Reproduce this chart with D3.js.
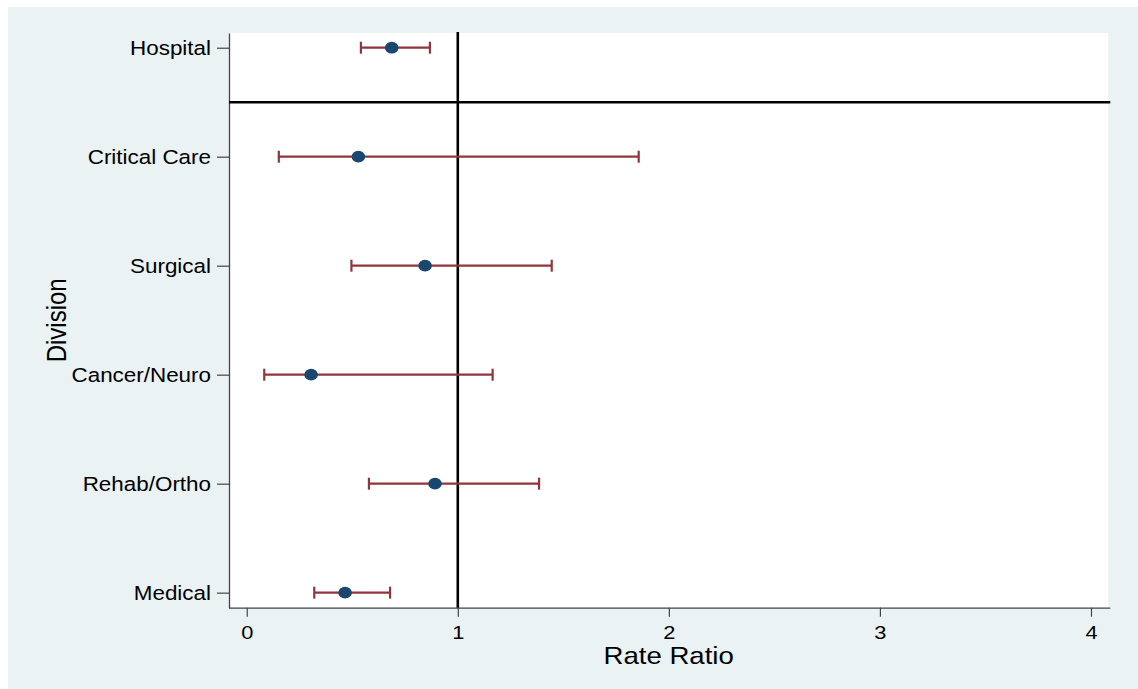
<!DOCTYPE html>
<html>
<head>
<meta charset="utf-8">
<script src="https://cdn.jsdelivr.net/npm/d3@7"></script>
<style>
  body { margin: 0; background: #fff; }
  svg text { font-family: "Liberation Sans", Arial, sans-serif; fill: #000; }
</style>
</head>
<body>
<div id="chart"></div>
<script>
// divisions from top to bottom, with rate ratio and 95% CI
const divisions = ["Hospital", "Critical Care", "Surgical", "Cancer/Neuro", "Rehab/Ortho", "Medical"];
const rateRatio = [0.687, 0.529, 0.845, 0.305, 0.892, 0.466];
const lowerCI   = [0.541, 0.152, 0.496, 0.083, 0.579, 0.320];
const upperCI   = [0.868, 1.857, 1.445, 1.165, 1.385, 0.679];
const xTicks = [0, 1, 2, 3, 4];
const refValue = 1;

const width = 1138, height = 689;
const plot = {left: 229, right: 1108.3, top: 33, bottom: 607.7};
const stretch = 1.15; // text in the picture is a bit wider than tall

const rows = divisions.map((d, i) => ({
  name: d,
  pos: divisions.length - i,
  rr: rateRatio[i],
  lo: lowerCI[i],
  hi: upperCI[i]
}));

const svg = d3.select('#chart')
  .append('svg')
  .attr('width', width)
  .attr('height', height);

// outer graph region
svg.append('rect')
  .attr('x', 8).attr('y', 7)
  .attr('width', width - 8).attr('height', height - 7)
  .attr('fill', '#eaf2f3');

svg.append('rect')
  .attr('x', plot.left).attr('y', plot.top)
  .attr('width', plot.right - plot.left).attr('height', plot.bottom - plot.top)
  .attr('fill', '#fff');

const x = d3.scaleLinear().domain([-0.084, 4.082]).range([plot.left, plot.right]);
const y = d3.scaleLinear().domain([0.862, 6.135]).range([plot.bottom, plot.top]);

// x axis
const gx = svg.append('g')
  .attr('transform', `translate(0,${plot.bottom})`)
  .call(d3.axisBottom(x).tickValues(xTicks).tickFormat(d3.format('d')).tickSize(9).tickSizeOuter(0));
gx.select('.domain').attr('stroke', '#444').attr('stroke-width', 1.3)
  .attr('d', `M${plot.left},0.5H${plot.right + 2}`);
gx.selectAll('.tick line').attr('stroke', '#444').attr('stroke-width', 1.2);
gx.selectAll('.tick text')
  .attr('y', 18).attr('dy', '0.71em')
  .attr('font-size', 19)
  .attr('transform', `scale(${stretch},1)`);

// y axis
const gy = svg.append('g')
  .attr('transform', `translate(${plot.left},0)`)
  .call(d3.axisLeft(y).tickValues(rows.map(d => d.pos))
    .tickFormat(p => rows.find(r => r.pos === p).name).tickSize(12).tickSizeOuter(0));
gy.select('.domain').attr('stroke', '#444').attr('stroke-width', 1.3);
gy.selectAll('.tick line').attr('stroke', '#444').attr('stroke-width', 1.2);
gy.selectAll('.tick text')
  .attr('x', -18 / stretch).attr('dy', '0.35em')
  .attr('font-size', 19.5)
  .attr('transform', `scale(${stretch},1)`);

// reference line at rate ratio 1
svg.append('line')
  .attr('x1', x(refValue)).attr('x2', x(refValue))
  .attr('y1', plot.top - 1).attr('y2', plot.bottom)
  .attr('stroke', '#000').attr('stroke-width', 2.6);

// separator between the hospital total and the divisions
const sep = (rows[0].pos + rows[1].pos) / 2;
svg.append('line')
  .attr('x1', plot.left).attr('x2', plot.right + 2)
  .attr('y1', y(sep)).attr('y2', y(sep))
  .attr('stroke', '#000').attr('stroke-width', 2.6);

// confidence intervals
const ci = svg.append('g').attr('stroke', '#90353b').attr('stroke-width', 2.2).attr('fill', 'none');
ci.selectAll('.bar').data(rows).join('line')
  .attr('x1', d => x(d.lo)).attr('x2', d => x(d.hi))
  .attr('y1', d => y(d.pos)).attr('y2', d => y(d.pos));
ci.selectAll('.capl').data(rows).join('line')
  .attr('x1', d => x(d.lo)).attr('x2', d => x(d.lo))
  .attr('y1', d => y(d.pos) - 6).attr('y2', d => y(d.pos) + 6);
ci.selectAll('.capr').data(rows).join('line')
  .attr('x1', d => x(d.hi)).attr('x2', d => x(d.hi))
  .attr('y1', d => y(d.pos) - 6).attr('y2', d => y(d.pos) + 6);

// point estimates
svg.append('g').selectAll('ellipse').data(rows).join('ellipse')
  .attr('cx', d => x(d.rr)).attr('cy', d => y(d.pos))
  .attr('rx', 6.8).attr('ry', 5.9)
  .attr('fill', '#1a476f');

// axis titles
svg.append('text')
  .attr('transform', `translate(${(plot.left + plot.right) / 2},664) scale(${stretch},1)`)
  .attr('text-anchor', 'middle')
  .attr('font-size', 24)
  .text('Rate Ratio');

svg.append('text')
  .attr('transform', `translate(66,${(plot.top + plot.bottom) / 2}) scale(${stretch},1) rotate(-90)`)
  .attr('text-anchor', 'middle')
  .attr('font-size', 24)
  .text('Division');
</script>
</body>
</html>
